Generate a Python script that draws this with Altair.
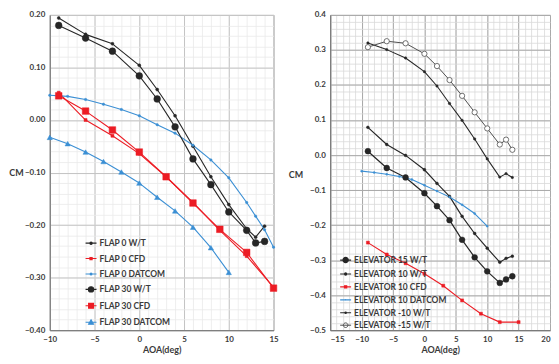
import altair as alt
import pandas as pd

# ---------------- left panel: flap ----------------
flap_series = ["FLAP 0 W/T", "FLAP 0 CFD", "FLAP 0 DATCOM", "FLAP 30 W/T", "FLAP 30 CFD", "FLAP 30 DATCOM"]
flap_wt_aoa = [-9, -6, -3, 0, 2, 4, 6, 8, 10, 12, 13, 14]
flap0_wt_cm = [0.194, 0.163, 0.145, 0.104, 0.058, 0.008, -0.050, -0.108, -0.161, -0.207, -0.223, -0.202]
flap30_wt_cm = [0.180, 0.156, 0.131, 0.084, 0.040, -0.013, -0.074, -0.123, -0.175, -0.210, -0.234, -0.231]
flap_cfd_aoa = [-9, -6, -3, 0, 3, 6, 9, 12, 15]
flap0_cfd_cm = [0.052, 0.000, -0.030, -0.064, -0.108, -0.157, -0.210, -0.259, -0.318]
flap30_cfd_cm = [0.046, 0.017, -0.019, -0.061, -0.108, -0.158, -0.208, -0.252, -0.320]
flap0_datcom_aoa = [-10, -8, -6, -4, -2, 0, 2, 4, 6, 8, 10, 12, 13, 14, 15]
flap0_datcom_cm = [0.047, 0.045, 0.039, 0.030, 0.020, 0.008, -0.009, -0.025, -0.048, -0.076, -0.110, -0.157, -0.183, -0.209, -0.242]
flap30_datcom_aoa = [-10, -8, -6, -4, -2, 0, 2, 4, 6, 8, 10]
flap30_datcom_cm = [-0.033, -0.045, -0.061, -0.079, -0.099, -0.120, -0.147, -0.173, -0.204, -0.243, -0.290]

# ---------------- right panel: elevator ----------------
elev_series = ["ELEVATOR 15 W/T", "ELEVATOR 10 W/T", "ELEVATOR 10 CFD", "ELEVATOR 10 DATCOM",
               "ELEVATOR -10 W/T", "ELEVATOR -15 W/T"]
elev_wt_aoa = [-9, -6, -3, 0, 2, 4, 6, 8, 10, 12, 13, 14]
elev15_wt_cm = [0.011, -0.037, -0.064, -0.109, -0.146, -0.186, -0.242, -0.292, -0.332, -0.365, -0.355, -0.346]
elev10_wt_cm = [0.079, 0.030, -0.001, -0.042, -0.081, -0.118, -0.175, -0.224, -0.266, -0.306, -0.295, -0.289]
elevm10_wt_cm = [0.320, 0.301, 0.277, 0.238, 0.197, 0.147, 0.099, 0.046, -0.011, -0.063, -0.053, -0.064]
elevm15_wt_cm = [0.308, 0.325, 0.319, 0.289, 0.254, 0.214, 0.169, 0.122, 0.076, 0.030, 0.044, 0.015]
elev_cfd_aoa = [-9, -6, -3, 0, 3, 6, 9, 12, 15]
elev10_cfd_cm = [-0.250, -0.284, -0.309, -0.339, -0.373, -0.415, -0.453, -0.477, -0.477]
elev_datcom_aoa = [-10, -8, -6, -4, -2, 0, 2, 4, 6, 8, 10]
elev10_datcom_cm = [-0.046, -0.050, -0.055, -0.061, -0.070, -0.086, -0.103, -0.120, -0.142, -0.167, -0.203]

BLACK = "#262626"
RED = "#ec1c24"
BLUE = "#3b8fd4"
FONT = "Lato"
TXT = "#3a3a3a"


def frame(pairs, key):
    rows = []
    for name, xs, ys in pairs:
        for x, y in zip(xs, ys):
            rows.append({key: name, "aoa": x, "cm": y})
    return pd.DataFrame(rows)


flap_df = frame([
    ("FLAP 0 W/T", flap_wt_aoa, flap0_wt_cm),
    ("FLAP 0 CFD", flap_cfd_aoa, flap0_cfd_cm),
    ("FLAP 0 DATCOM", flap0_datcom_aoa, flap0_datcom_cm),
    ("FLAP 30 W/T", flap_wt_aoa, flap30_wt_cm),
    ("FLAP 30 CFD", flap_cfd_aoa, flap30_cfd_cm),
    ("FLAP 30 DATCOM", flap30_datcom_aoa, flap30_datcom_cm),
], "flap")
elev_df = frame([
    ("ELEVATOR 15 W/T", elev_wt_aoa, elev15_wt_cm),
    ("ELEVATOR 10 W/T", elev_wt_aoa, elev10_wt_cm),
    ("ELEVATOR 10 CFD", elev_cfd_aoa, elev10_cfd_cm),
    ("ELEVATOR 10 DATCOM", elev_datcom_aoa, elev10_datcom_cm),
    ("ELEVATOR -10 W/T", elev_wt_aoa, elevm10_wt_cm),
    ("ELEVATOR -15 W/T", elev_wt_aoa, elevm15_wt_cm),
], "elev")


def circ(r):
    return f"M-1,0H1M{r},0A{r},{r},0,1,1,{-r},0A{r},{r},0,1,1,{r},0Z"


def sq(h):
    return f"M-1,0H1M{-h},{-h}H{h}V{h}H{-h}Z"


def tri(h):
    return f"M-1,0H1M0,{-h}L{h},{h * 0.8}H{-h}Z"


# style per series: line colour, line width, marker shape, marker size, marker fill, legend symbol
flap_style = {
    "FLAP 0 W/T": (BLACK, 1.1, "circle", 9, BLACK, circ(0.22)),
    "FLAP 0 CFD": (RED, 1.1, "square", 9, RED, sq(0.2)),
    "FLAP 0 DATCOM": (BLUE, 1.0, "circle", 6, BLUE, circ(0.18)),
    "FLAP 30 W/T": (BLACK, 1.1, "circle", 46, BLACK, circ(0.48)),
    "FLAP 30 CFD": (RED, 1.5, "square", 44, RED, sq(0.45)),
    "FLAP 30 DATCOM": (BLUE, 1.2, "triangle-up", 28, BLUE, tri(0.45)),
}
elev_style = {
    "ELEVATOR 15 W/T": (BLACK, 1.2, "circle", 34, BLACK, circ(0.48)),
    "ELEVATOR 10 W/T": (BLACK, 1.0, "circle", 8, BLACK, circ(0.2)),
    "ELEVATOR 10 CFD": (RED, 2.0, "square", 9, RED, sq(0.2)),
    "ELEVATOR 10 DATCOM": (BLUE, 1.5, "circle", 4, BLUE, circ(0.05)),
    "ELEVATOR -10 W/T": (BLACK, 1.0, "circle", 6, BLACK, circ(0.15)),
    "ELEVATOR -15 W/T": ("#505050", 1.0, "circle", 28, "white", circ(0.42)),
}


def frange(a, b, step):
    n = int(round((b - a) / step))
    return [round(a + i * step, 4) for i in range(n + 1)]


def panel(df, key, order, style, xdom, ydom, xmaj, ymaj, xmin, ymin, yfmt, width,
          minor_col, major_col, legend_pos, sym_size, row_pad, title_pos, flush):
    field = f"{key}:N"
    xs = alt.Scale(domain=xdom, nice=False, zero=False)
    ys = alt.Scale(domain=ydom, nice=False, zero=False)
    stroke_scale = alt.Scale(domain=order, range=[style[s][0] for s in order])
    sw_scale = alt.Scale(domain=order, range=[style[s][1] for s in order])
    base = alt.Chart(df)

    leg = alt.Legend(orient="none", legendX=legend_pos[0], legendY=legend_pos[1], title=None,
                     symbolSize=sym_size, rowPadding=row_pad, labelFont=FONT, labelFontSize=8.5,
                     labelFontWeight="bold", labelColor=TXT, labelOffset=2, padding=0,
                     symbolOpacity=1)

    minor_x = alt.Axis(values=frange(xdom[0], xdom[1], xmin), orient="top", labels=False, ticks=False,
                       domain=False, title=None, grid=True, gridColor=minor_col, gridWidth=0.8)
    minor_y = alt.Axis(values=frange(ydom[0], ydom[1], ymin), orient="right", labels=False, ticks=False,
                       domain=False, title=None, grid=True, gridColor=minor_col, gridWidth=0.8)
    major_x = alt.Axis(values=frange(xdom[0], xdom[1], xmaj), orient="bottom", format="d", title="AOA(deg)",
                       grid=True, gridColor=major_col, gridWidth=1, ticks=False, labelPadding=5,
                       domainColor="#707070", titlePadding=2, labelFlush=flush)
    major_y = alt.Axis(values=frange(ydom[0], ydom[1], ymaj), orient="left", format=yfmt, title="CM",
                       grid=True, gridColor=major_col, gridWidth=1, ticks=False, labelPadding=5,
                       domainColor="#707070", titleAngle=0, titleX=title_pos[0], titleY=title_pos[1],
                       titleAlign="center", titleBaseline="middle")

    lines = base.mark_line(strokeJoin="round").encode(
        x=alt.X("aoa:Q", scale=xs, axis=minor_x),
        y=alt.Y("cm:Q", scale=ys, axis=minor_y),
        stroke=alt.Stroke(field, scale=stroke_scale, legend=leg),
        strokeWidth=alt.StrokeWidth(field, scale=sw_scale, legend=leg),
    )

    layers = [lines]
    for i, s in enumerate(order):
        color, lw, shape, size, fill, _ = style[s]
        pts = base.transform_filter(alt.datum[key] == s).mark_point(
            shape=shape, size=size, fill=fill, stroke=color, strokeWidth=0.8 if fill == "white" else 0.5,
            opacity=1, filled=True,
        ).encode(
            x=alt.X("aoa:Q", scale=xs, axis=major_x if i == 0 else None),
            y=alt.Y("cm:Q", scale=ys, axis=major_y if i == 0 else None),
        )
        layers.append(pts)

    legend_layer = base.transform_filter("false").mark_point(filled=True, opacity=1).encode(
        x=alt.X("aoa:Q", scale=xs, axis=None),
        y=alt.Y("cm:Q", scale=ys, axis=None),
        shape=alt.Shape(field, scale=alt.Scale(domain=order, range=[style[s][5] for s in order]), legend=leg),
        fill=alt.Fill(field, scale=alt.Scale(domain=order, range=[style[s][4] for s in order]), legend=leg),
        stroke=alt.Stroke(field, scale=stroke_scale, legend=leg),
        strokeWidth=alt.StrokeWidth(field, scale=sw_scale, legend=leg),
    )
    layers.append(legend_layer)

    return alt.layer(*layers).resolve_axis(x="independent", y="independent").properties(
        width=width, height=317)


left = panel(flap_df, "flap", flap_series, flap_style, [-10, 15], [-0.4, 0.2], 5, 0.1, 1, 0.02, ".2f", 225,
             "#e9e9e9", "#c4c4c4", (35, 223), 121, 4.5, (-34, 158), False)
right = panel(elev_df, "elev", elev_series, elev_style, [-15, 20], [-0.5, 0.4], 5, 0.1, 1, 0.02, ".1f", 221,
              "#d9d9d9", "#a8a8a8", (9, 240), 121, 2, (-35, 160), True)

chart = alt.hconcat(left, right, spacing=8, padding={"left": 0, "top": 1, "right": 0, "bottom": 0}).resolve_scale(
    stroke="independent", strokeWidth="independent", fill="independent", shape="independent"
).resolve_legend(
    stroke="independent", strokeWidth="independent", fill="independent", shape="independent"
).configure_view(
    stroke="#8a8a8a", strokeWidth=1
).configure_axis(
    labelFont=FONT, labelFontSize=8, labelFontWeight="bold", labelColor=TXT,
    titleFont=FONT, titleFontSize=9, titleFontWeight="bold", titleColor=TXT,
)

chart.save("out.html", embed_options={"renderer": "svg", "actions": False})
